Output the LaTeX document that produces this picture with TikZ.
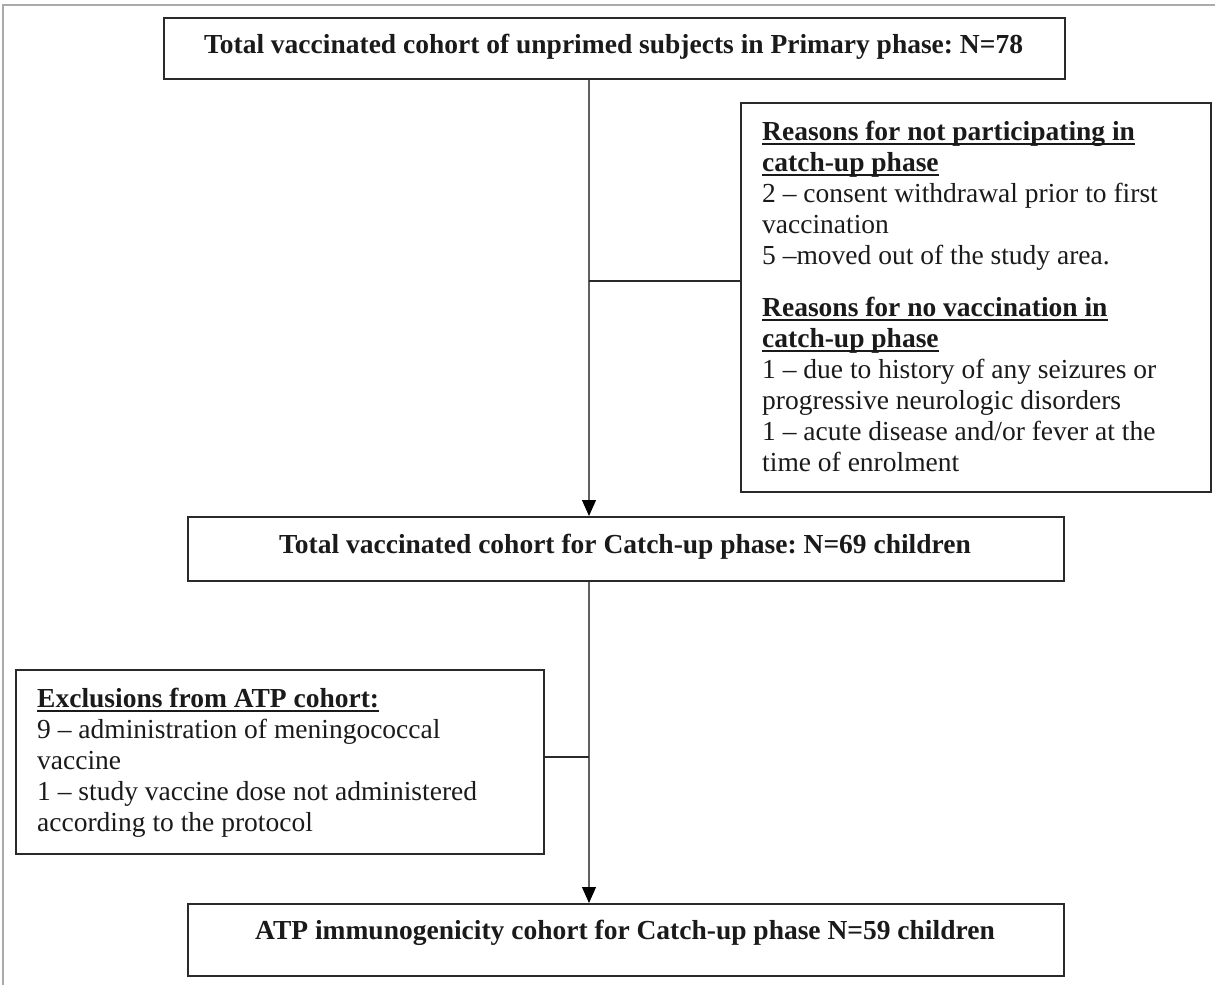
\documentclass[tikz,border=0pt]{standalone}
\usepackage{fontspec}
\setmainfont{Liberation Serif}
\usetikzlibrary{arrows.meta}
\definecolor{boxc}{HTML}{2A2A2A}
\definecolor{linec}{HTML}{606060}
\definecolor{framec}{HTML}{AAAAAA}
\definecolor{txtc}{HTML}{1A1A1A}
\newcommand{\hul}[1]{\setbox0=\hbox{#1}\rlap{\color{txtc}\rule[-4.4pt]{\wd0}{2pt}}\box0}
\frenchspacing
\begin{document}
\begin{tikzpicture}[x=1pt,y=-1pt,
  box/.style={draw=boxc, line width=2pt, inner sep=0pt, anchor=north west},
  txt/.style={inner sep=0pt, text=txtc, font=\fontsize{27.5}{31}\selectfont},
  blk/.style={txt, align=left, anchor=north west},
  conn/.style={draw=linec, line width=1.1pt},
  branch/.style={draw=boxc, line width=2pt},
  arr/.style={-{Triangle[length=16pt,width=14pt,color=black]}}
]
\useasboundingbox (0,0) rectangle (1215,985);
\draw[framec, line width=1.5pt] (3,985) -- (3,5) -- (1215,5);

% boxes
\node[box, minimum width=901pt, minimum height=61pt] (b1) at (163,17) {};
\node[box, minimum width=470pt, minimum height=389pt] (rs) at (740,102) {};
\node[box, minimum width=876pt, minimum height=64pt] (b2) at (187,516) {};
\node[box, minimum width=528pt, minimum height=184pt] (ex) at (15,669) {};
\node[box, minimum width=876pt, minimum height=72pt] (b4) at (187,903) {};

% texts
\node[txt, anchor=base] (t1) at (613.5,53) {\textbf{Total vaccinated cohort of unprimed subjects in Primary phase: N=78}};
\node[txt, anchor=base] (t2) at (625,553) {\textbf{Total vaccinated cohort for Catch-up phase: N=69 children}};
\node[txt, anchor=base] (t4) at (625,939) {\textbf{ATP immunogenicity cohort for Catch-up phase N=59 children}};

\node[blk] (trs) at (762,118.3) {\strut\hul{\textbf{Reasons for not participating in}}\\
\hul{\textbf{catch-up phase}}\\
2 – consent withdrawal prior to first\\
vaccination\\
5 –moved out of the study area.\\[21pt]
\hul{\textbf{Reasons for no vaccination in}}\\
\hul{\textbf{catch-up phase}}\\
1 – due to history of any seizures or\\
progressive neurologic disorders\\
1 – acute disease and/or fever at the\\
time of enrolment};

\node[blk] (tex) at (37,685.3) {\strut\hul{\textbf{Exclusions from ATP cohort:}}\\
9 – administration of meningococcal\\
vaccine\\
1 – study vaccine dose not administered\\
according to the protocol};

% connectors
\coordinate (trunk) at (589,0);
\coordinate (j1) at (589,281);
\coordinate (j2) at (589,757);
\draw[conn, arr] (b1.south -| trunk) -- (b2.north -| trunk);
\draw[conn, arr] (b2.south -| trunk) -- (b4.north -| trunk);
\draw[branch] (j1) -- (j1 -| rs.west);
\draw[branch] (ex.east |- j2) -- (j2);
\end{tikzpicture}
\end{document}
